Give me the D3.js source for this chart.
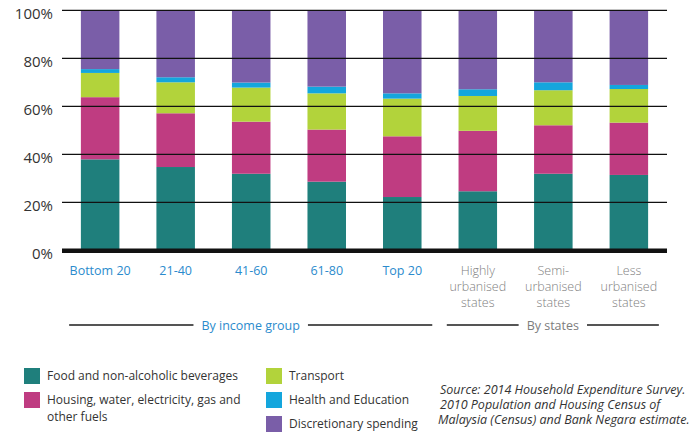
<!DOCTYPE html>
<html>
<head>
<meta charset="utf-8">
<script src="https://cdn.jsdelivr.net/npm/d3@7"></script>
<style>
  html, body { margin: 0; padding: 0; background: #fff; }
  svg { display: block; font-family: "Open Sans", sans-serif; }
</style>
</head>
<body>
<div id="chart"></div>
<script>
// categories and tick labels
const categories = ["Bottom 20", "21-40", "41-60", "61-80", "Top 20", "Highly", "Semi-", "Less"];
const categoryLines = [
    ["Bottom 20"], ["21-40"], ["41-60"], ["61-80"], ["Top 20"],
    ["Highly", "urbanised", "states"],
    ["Semi-", "urbanised", "states"],
    ["Less", "urbanised", "states"]
];
const yTicks = [0, 20, 40, 60, 80, 100];

// share of spending, %
const food = [37.9, 34.7, 31.9, 28.6, 22.2, 24.6, 31.9, 31.4];
const housing = [25.9, 22.4, 21.7, 21.7, 25.3, 25.2, 20.2, 21.8];
const transport = [10.1, 12.9, 14.2, 15.1, 15.7, 14.5, 14.6, 14.0];
const health = [1.6, 2.1, 2.1, 2.8, 2.2, 2.8, 3.3, 1.7];
const discretionary = [24.5, 27.9, 30.1, 31.8, 34.6, 32.9, 30.0, 31.1];

const seriesKeys = ["food", "housing", "transport", "health", "discretionary"];
const seriesNames = {
    food: ["Food and non-alcoholic beverages"],
    housing: ["Housing, water, electricity, gas and", "other fuels"],
    transport: ["Transport"],
    health: ["Health and Education"],
    discretionary: ["Discretionary spending"]
};
const colors = {
    food: "#1f7f7c",
    housing: "#bf3c81",
    transport: "#b2d33b",
    health: "#14a6dd",
    discretionary: "#7a5ea8"
};

const groups = [
    { label: "By income group", first: 0, last: 4, color: "#2b8bcd" },
    { label: "By states", first: 5, last: 7, color: "#7d7d7d" }
];

const sourceLines = [
    "Source: 2014 Household Expenditure Survey.",
    "2010 Population and Housing Census of",
    "Malaysia (Census) and Bank Negara estimate."
];

const width = 691, height = 432;

const table = categories.map((c, i) => ({
    cat: c,
    food: food[i], housing: housing[i], transport: transport[i],
    health: health[i], discretionary: discretionary[i]
}));

const svg = d3.select("#chart").append("svg")
    .attr("width", width)
    .attr("height", height);

const x = d3.scaleBand()
    .domain(categories)
    .range([62, 667])
    .paddingInner(0.49)
    .paddingOuter(0.25);

const y = d3.scaleLinear()
    .domain([0, 100])
    .range([250.3, 10.3]);

const stacked = d3.stack().keys(seriesKeys)(table);

// bars
svg.append("g").selectAll("g")
    .data(stacked)
    .join("g")
    .attr("fill", d => colors[d.key])
    .selectAll("rect")
    .data(d => d)
    .join("rect")
    .attr("x", d => x(d.data.cat))
    .attr("width", x.bandwidth())
    .attr("y", d => y(d[1]))
    .attr("height", d => y(d[0]) - y(d[1]));

// y labels
const yAxis = svg.append("g")
    .call(d3.axisLeft(y).tickValues(yTicks).tickSize(0).tickFormat(d => d + "%"))
    .attr("transform", "translate(62,0)");
yAxis.select(".domain").remove();
yAxis.selectAll("text")
    .attr("x", -9)
    .attr("dy", "0.55em")
    .attr("fill", "#333")
    .style("font-size", "15px")
    .style("font-family", "Open Sans, sans-serif");

// gridlines on top of bars
svg.append("g").selectAll("line")
    .data(yTicks)
    .join("line")
    .attr("x1", 62)
    .attr("x2", 667)
    .attr("y1", d => y(d) + (d === 0 ? 0.4 : 0))
    .attr("y2", d => y(d) + (d === 0 ? 0.4 : 0))
    .attr("stroke", "#111")
    .attr("stroke-width", d => d === 0 ? 4.5 : 1.3);

// category labels
const catLabels = svg.append("g").selectAll("text")
    .data(categoryLines)
    .join("text")
    .attr("text-anchor", "middle")
    .attr("fill", (d, i) => i < 5 ? "#2b8bcd" : "#808080")
    .style("font-size", "12.5px")
    .style("font-weight", (d, i) => i < 5 ? 400 : 300);

catLabels.selectAll("tspan")
    .data((d, i) => d.map(t => ({ t, i })))
    .join("tspan")
    .attr("x", d => x(categories[d.i]) + x.bandwidth() / 2)
    .attr("y", (d, j) => 275 + j * 16)
    .text(d => d.t);

// group brackets
groups.forEach(g => {
    const x0 = x(categories[g.first]) + x.bandwidth() / 2 - 31;
    const x1 = x(categories[g.last]) + x.bandwidth() / 2 + 30;
    const cx = (x0 + x1) / 2;
    const label = svg.append("text")
        .attr("x", cx)
        .attr("y", 330)
        .attr("text-anchor", "middle")
        .attr("fill", g.color)
        .style("font-size", "12.5px")
        .text(g.label);
    const half = label.node().getComputedTextLength() / 2 + 8;
    [[x0, cx - half], [cx + half, x1]].forEach(([a, b]) => {
        svg.append("line")
            .attr("x1", a).attr("x2", b)
            .attr("y1", 325).attr("y2", 325)
            .attr("stroke", "#555")
            .attr("stroke-width", 2);
    });
});

// legend
const legendPos = {
    food: [24, 368], housing: [24, 392],
    transport: [266, 368], health: [266, 392], discretionary: [266, 416]
};
const legend = svg.append("g").selectAll("g")
    .data(seriesKeys)
    .join("g")
    .attr("transform", d => `translate(${legendPos[d][0]},${legendPos[d][1]})`);

legend.append("rect")
    .attr("width", 16)
    .attr("height", 16)
    .attr("fill", d => colors[d]);

legend.append("text")
    .attr("fill", "#333")
    .style("font-size", "12px")
    .selectAll("tspan")
    .data(d => seriesNames[d])
    .join("tspan")
    .attr("x", 23)
    .attr("y", (d, j) => 11.5 + j * 17)
    .text(d => d);

// source note, one text per line
svg.append("g").selectAll("text")
    .data(sourceLines)
    .join("text")
    .attr("fill", "#333")
    .style("font-size", "12.5px")
    .style("font-style", "italic")
    .attr("x", (d, i) => i === 2 ? 438 : 440)
    .attr("y", (d, i) => 394 + i * 15)
    .text(d => d);
</script>
</body>
</html>
